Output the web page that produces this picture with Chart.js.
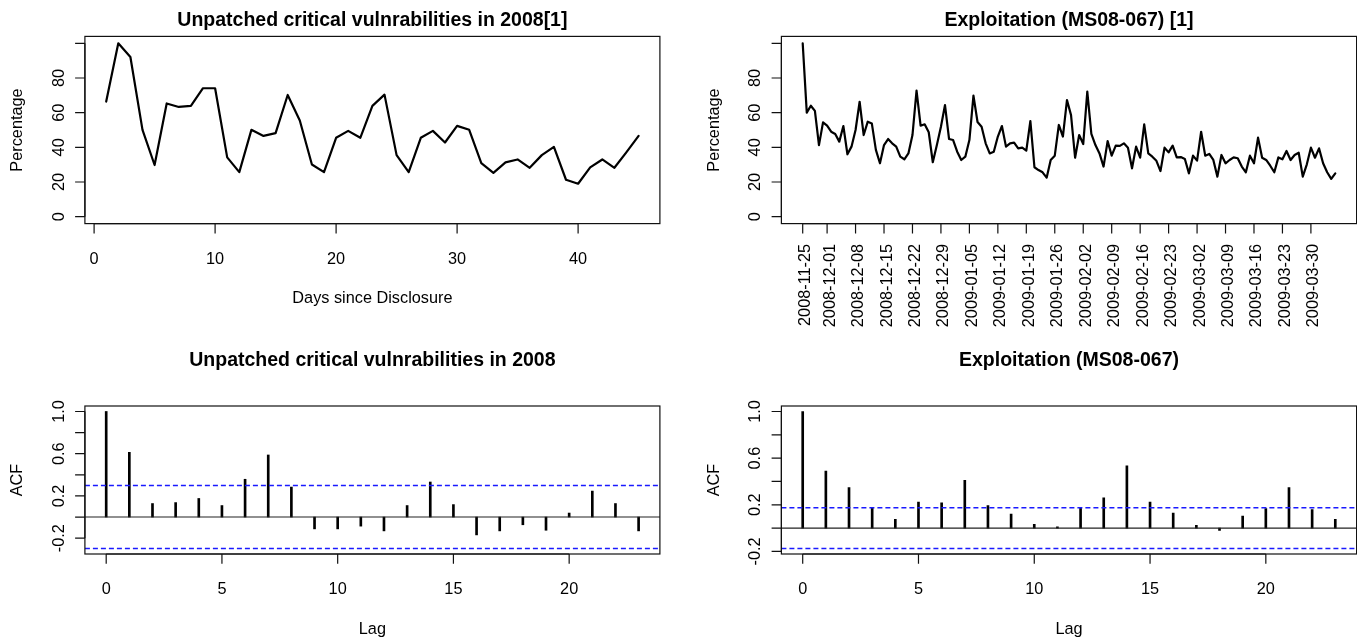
<!DOCTYPE html>
<html><head><meta charset="utf-8">
<script src="https://cdn.jsdelivr.net/npm/chart.js@4/dist/chart.umd.min.js"></script>
<style>
html,body{margin:0;padding:0;background:#fff;}
#wrap{position:relative;width:1357px;height:638px;overflow:hidden;background:#fff;}
#wrap canvas{position:absolute;left:0;top:0;}
</style></head><body>
<div id="wrap">
<canvas id="c1" width="1357" height="638"></canvas>
<canvas id="c2" width="1357" height="638"></canvas>
<canvas id="c3" width="1357" height="638"></canvas>
<canvas id="c4" width="1357" height="638"></canvas>
</div>
<script>
// ---------------- DATA ----------------
const vulnPct = [66.4,100,92.1,50.1,29.8,65.3,63.3,63.9,74.1,74.1,34.2,25.7,50.1,46.6,48.2,70.2,55.5,30.1,25.7,45.5,49.5,45.5,63.9,70.4,35.5,25.7,45.5,49.5,42.8,52.4,50.1,30.9,25.3,31.3,33.0,28.2,35.5,40.3,21.3,19.0,28.4,33.0,28.2,37.2,46.6];
const exploitStart = '2008-11-25';
const exploitPct = [
100,60.0,64.0,61.0,41.3,54.4,52.5,49.0,47.7,43.3,
52.3,36.0,40.4,50.0,66.3,47.1,54.8,53.8,38.5,30.8,
41.3,44.8,42.3,40.4,34.6,33.1,36.5,47.1,72.7,52.5,
53.3,48.7,31.4,41.3,51.9,64.4,44.8,44.2,37.5,32.7,
34.6,44.2,69.8,54.6,51.9,42.3,36.5,37.5,46.2,52.3,
40.4,42.3,42.7,39.4,39.8,38.1,55.2,28.5,26.9,25.6,
22.5,32.7,35.2,52.9,46.2,67.3,58.6,34.0,47.1,41.9,
72.1,47.7,41.3,36.5,28.9,43.6,35.2,41.0,40.8,42.3,
39.8,27.9,40.4,34.0,53.3,36.5,34.6,32.2,26.3,39.8,
37.1,41.0,34.2,34.4,33.3,25.0,35.2,32.3,49.0,35.2,
36.2,32.7,23.1,35.6,30.8,32.7,34.2,33.7,28.9,25.6,
35.2,30.8,45.6,34.0,32.7,29.4,25.6,34.2,33.1,37.9,
32.7,35.6,36.9,23.1,30.2,39.8,34.0,39.4,30.8,25.6,
21.8,25.0];
const exploitTickDates = ['2008-11-25','2008-12-01','2008-12-08','2008-12-15','2008-12-22','2008-12-29','2009-01-05','2009-01-12','2009-01-19','2009-01-26','2009-02-02','2009-02-09','2009-02-16','2009-02-23','2009-03-02','2009-03-09','2009-03-16','2009-03-23','2009-03-30'];
const acfVuln = [1.0,0.613,0.128,0.137,0.176,0.109,0.358,0.588,0.284,-0.112,-0.112,-0.086,-0.131,0.109,0.332,0.118,-0.169,-0.131,-0.073,-0.125,0.038,0.246,0.128,-0.131];
const acfExploit = [1.0,0.489,0.348,0.170,0.075,0.224,0.216,0.409,0.193,0.121,0.032,0.012,0.173,0.259,0.535,0.224,0.129,0.023,-0.020,0.104,0.167,0.348,0.158,0.075];
const confVuln = 0.298;
const confExploit = 0.175;
const pctLimits = [0, 100];
const pctTicks = [0,20,40,60,80,100];
const pctTickLabels = ['0','20','40','60','80',''];
const dayTicks = [0,10,20,30,40];
const dayTickLabels = ['0','10','20','30','40'];
const lagTicks = [0,5,10,15,20];
const lagTickLabels = ['0','5','10','15','20'];
const acfTicks = [-0.2,0,0.2,0.4,0.6,0.8,1.0];
const acfTickLabels = ['-0.2','','0.2','','0.6','','1.0'];
const titles = ['Unpatched critical vulnrabilities in 2008[1]','Exploitation (MS08-067) [1]','Unpatched critical vulnrabilities in 2008','Exploitation (MS08-067)'];

// ---------------- HELPERS ----------------
const W = 1357, H = 638;
const FONT = '"Liberation Sans", Arial, Helvetica, sans-serif';
const AXIS_FONT = '16.3px ' + FONT;
const TITLE_FONT = 'bold 19.5px ' + FONT;
const TICK = 9.8;
const ext = (lo, hi) => { const r = hi - lo; return [lo - 0.04 * r, hi + 0.04 * r]; };
const dayDiff = (a, b) => Math.round((Date.parse(a) - Date.parse(b)) / 86400000);

const rStyle = {
  id: 'rStyle',
  afterDatasetsDraw(chart, args, o) {
    const ctx = chart.ctx, a = chart.chartArea;
    const xs = chart.scales.x, ys = chart.scales.y;
    ctx.save();
    ctx.strokeStyle = '#111';
    ctx.lineWidth = 1.2;
    ctx.strokeRect(a.left, a.top, a.right - a.left, a.bottom - a.top);
    const xp = o.xTicks.map(v => xs.getPixelForValue(v));
    const yp = o.yTicks.map(v => ys.getPixelForValue(v));
    ctx.beginPath();
    ctx.moveTo(xp[0], a.bottom); ctx.lineTo(xp[xp.length - 1], a.bottom);
    xp.forEach(p => { ctx.moveTo(p, a.bottom); ctx.lineTo(p, a.bottom + TICK); });
    ctx.moveTo(a.left, yp[0]); ctx.lineTo(a.left, yp[yp.length - 1]);
    yp.forEach(p => { ctx.moveTo(a.left, p); ctx.lineTo(a.left - TICK, p); });
    ctx.stroke();
    ctx.fillStyle = '#000';
    ctx.font = AXIS_FONT;
    if (o.xRotate) {
      xp.forEach((p, i) => {
        ctx.save(); ctx.translate(p + 7.5, a.bottom + 20.3); ctx.rotate(-Math.PI / 2);
        ctx.textAlign = 'right'; ctx.textBaseline = 'alphabetic';
        ctx.fillText(o.xLabels[i], 0, 0); ctx.restore();
      });
    } else {
      ctx.textAlign = 'center'; ctx.textBaseline = 'alphabetic';
      xp.forEach((p, i) => ctx.fillText(o.xLabels[i], p, a.bottom + 40.3));
    }
    yp.forEach((p, i) => {
      if (!o.yLabels[i]) return;
      ctx.save(); ctx.translate(a.left - 21, p); ctx.rotate(-Math.PI / 2);
      ctx.textAlign = 'center'; ctx.textBaseline = 'alphabetic';
      ctx.fillText(o.yLabels[i], 0, 0); ctx.restore();
    });
    if (o.xTitle) {
      ctx.textAlign = 'center'; ctx.textBaseline = 'alphabetic';
      ctx.fillText(o.xTitle, (a.left + a.right) / 2, a.bottom + 79.7);
    }
    if (o.yTitle) {
      ctx.save(); ctx.translate(a.left - 62.5, (a.top + a.bottom) / 2); ctx.rotate(-Math.PI / 2);
      ctx.textAlign = 'center'; ctx.textBaseline = 'alphabetic';
      ctx.fillText(o.yTitle, 0, 0); ctx.restore();
    }
    ctx.font = TITLE_FONT;
    ctx.textAlign = 'center'; ctx.textBaseline = 'alphabetic';
    ctx.fillText(o.title, (a.left + a.right) / 2, o.titleY);
    ctx.restore();
  }
};

function baseOptions(pad, xr, yr, styleOpts) {
  return {
    responsive: false, animation: false, events: [], devicePixelRatio: 1,
    layout: { padding: pad },
    plugins: { legend: { display: false }, tooltip: { enabled: false }, title: { display: false }, rStyle: styleOpts },
    scales: {
      x: { type: 'linear', display: false, min: xr[0], max: xr[1], offset: false },
      y: { type: 'linear', display: false, min: yr[0], max: yr[1] }
    }
  };
}

const LEFT = { l: 84.9, r: W - 659.9 };
const RIGHT = { l: 781.4, r: W - 1356.6 };
const TOP = { t: 36.4, b: H - 223.6 };
const BOT = { t: 406, b: H - 554 };

// ---- Chart 1: vulnerabilities line ----
(function () {
  const pts = vulnPct.map((v, i) => ({ x: i + 1, y: v }));
  new Chart(document.getElementById('c1'), {
    type: 'line',
    data: { datasets: [{ data: pts, borderColor: '#000', borderWidth: 2.2, pointRadius: 0, tension: 0, borderJoinStyle: 'round', borderCapStyle: 'round', fill: false }] },
    options: baseOptions({ left: LEFT.l, right: LEFT.r, top: TOP.t, bottom: TOP.b }, ext(1, vulnPct.length), ext(pctLimits[0], pctLimits[1]),
      { title: titles[0], titleY: 25.5, xTicks: dayTicks, xLabels: dayTickLabels, yTicks: pctTicks, yLabels: pctTickLabels, xTitle: 'Days since Disclosure', yTitle: 'Percentage' }),
    plugins: [rStyle]
  });
})();

// ---- Chart 2: exploitation line ----
(function () {
  const pts = exploitPct.map((v, i) => ({ x: i, y: v }));
  const tickPos = exploitTickDates.map(d => dayDiff(d, exploitStart));
  new Chart(document.getElementById('c2'), {
    type: 'line',
    data: { datasets: [{ data: pts, borderColor: '#000', borderWidth: 2.2, pointRadius: 0, tension: 0, borderJoinStyle: 'round', borderCapStyle: 'round', fill: false }] },
    options: baseOptions({ left: RIGHT.l, right: RIGHT.r, top: TOP.t, bottom: TOP.b }, ext(0, exploitPct.length - 1), ext(pctLimits[0], pctLimits[1]),
      { title: titles[1], titleY: 25.5, xTicks: tickPos, xLabels: exploitTickDates, xRotate: true, yTicks: pctTicks, yLabels: pctTickLabels, xTitle: '', yTitle: 'Percentage' }),
    plugins: [rStyle]
  });
})();

// ---- ACF charts ----
function acfChart(id, acf, conf, pad, title) {
  const xr = ext(0, acf.length - 1);
  const yr = ext(Math.min(-conf, ...acf), Math.max(conf, ...acf));
  const bars = acf.map((v, i) => ({ x: i, y: v }));
  const hline = (y) => [{ x: xr[0], y: y }, { x: xr[1], y: y }];
  new Chart(document.getElementById(id), {
    type: 'bar',
    data: {
      datasets: [
        { type: 'bar', data: bars, backgroundColor: '#000', borderWidth: 0, barThickness: 2, order: 3 },
        { type: 'line', data: hline(0), borderColor: '#222', borderWidth: 1.1, pointRadius: 0, order: 2 },
        { type: 'line', data: hline(conf), borderColor: '#1a1aff', borderWidth: 1.5, borderDash: [5, 3], pointRadius: 0, order: 1 },
        { type: 'line', data: hline(-conf), borderColor: '#1a1aff', borderWidth: 1.5, borderDash: [5, 3], pointRadius: 0, order: 1 }
      ]
    },
    options: baseOptions(pad, xr, yr,
      { title: title, titleY: 366, xTicks: lagTicks, xLabels: lagTickLabels, yTicks: acfTicks, yLabels: acfTickLabels, xTitle: 'Lag', yTitle: 'ACF' }),
    plugins: [rStyle]
  });
}
acfChart('c3', acfVuln, confVuln, { left: LEFT.l, right: LEFT.r, top: BOT.t, bottom: BOT.b }, titles[2]);
acfChart('c4', acfExploit, confExploit, { left: RIGHT.l, right: RIGHT.r, top: BOT.t, bottom: BOT.b }, titles[3]);
</script>
</body></html>
